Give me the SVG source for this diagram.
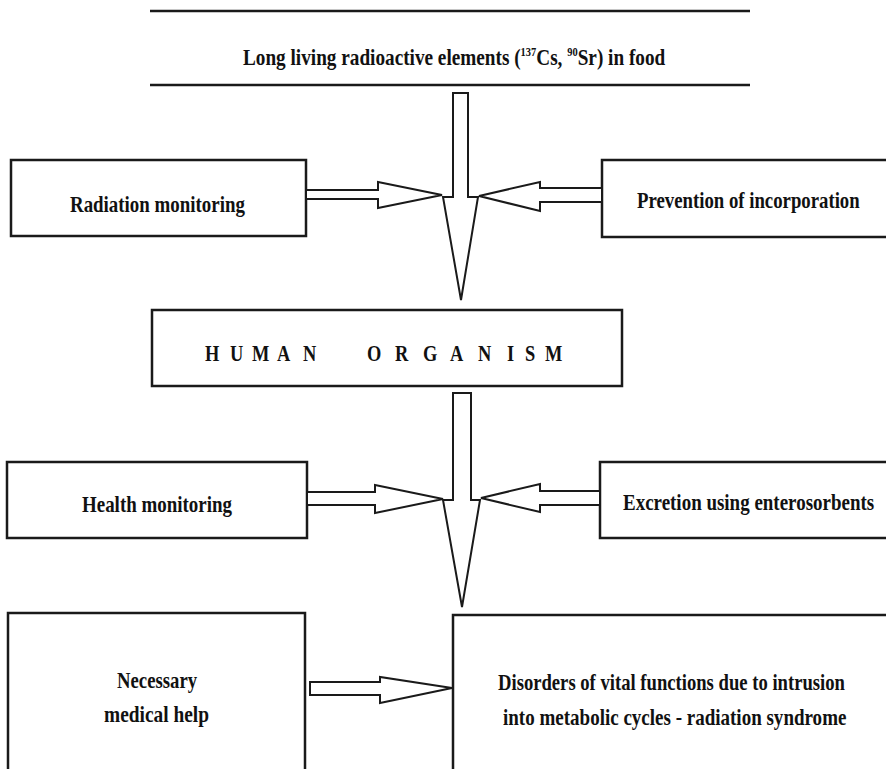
<svg xmlns="http://www.w3.org/2000/svg" width="886" height="769" viewBox="0 0 886 769">
<style>
.box{fill:none;stroke:#1a1a1a;stroke-width:2.5}
.ln{stroke:#1a1a1a;stroke-width:2.5;fill:none}
.arr{fill:#fff;stroke:#1a1a1a;stroke-width:2;stroke-linejoin:miter}
.t{font-family:"Liberation Serif","Times New Roman",serif;font-weight:bold;font-size:23px;fill:#111}
.sup{font-size:12.5px}
</style>
<rect width="886" height="769" fill="#fff"/>
<g id="n-food">
<line class="ln" x1="150" y1="11" x2="750" y2="11"/>
<line class="ln" x1="150" y1="85" x2="750" y2="85"/>
<text class="t" transform="translate(243,65) scale(0.836,1)">Long living radioactive elements (<tspan class="sup" dy="-9">137</tspan><tspan dy="9">Cs, </tspan><tspan class="sup" dy="-9">90</tspan><tspan dy="9">Sr) in food</tspan></text>
</g>
<g id="n-radmon">
<rect class="box" x="11" y="160" width="295" height="76"/>
<text class="t" transform="translate(70,212) scale(0.822,1)">Radiation monitoring</text>
</g>
<g id="n-prevent">
<polyline class="ln" points="888,160 602,160 602,237 888,237"/>
<text class="t" transform="translate(637,208) scale(0.816,1)">Prevention of incorporation</text>
</g>
<g id="n-human">
<rect class="box" x="152" y="310" width="470" height="76"/>
<text class="t" transform="translate(0,361) scale(0.8,1)" x="256.25 287.5 315 346.25 378.75 458.75 493.75 528.75 562.5 597.5 633.75 656.25 681.25">HUMANORGANISM</text>
</g>
<g id="n-health">
<rect class="box" x="7" y="462" width="300" height="76"/>
<text class="t" transform="translate(82,512) scale(0.824,1)">Health monitoring</text>
</g>
<g id="n-excretion">
<polyline class="ln" points="888,462 600,462 600,538 888,538"/>
<text class="t" transform="translate(623,510) scale(0.825,1)">Excretion using enterosorbents</text>
</g>
<g id="n-medical">
<polyline class="ln" points="8,772 8,613 305,613 305,772"/>
<text class="t" transform="translate(117,688) scale(0.814,1)">Necessary</text>
<text class="t" transform="translate(104,722) scale(0.843,1)">medical help</text>
</g>
<g id="n-disorders">
<polyline class="ln" points="453,772 453,615 888,615"/>
<text class="t" transform="translate(498,690) scale(0.811,1)">Disorders of vital functions due to intrusion</text>
<text class="t" transform="translate(503,725) scale(0.827,1)">into metabolic cycles - radiation syndrome</text>
</g>
<g id="connectors">
<polygon class="arr" points="453,93 468,93 468,197 478,197 461,300 443,197 453,197"/>
<polygon class="arr" points="306,190 378,190 378,182 442,195 378,208 378,199 306,199"/>
<polygon class="arr" points="602,188 540,188 540,182 479,196 540,211 540,202 602,202"/>
<polygon class="arr" points="453,393 471,393 471,500 480,500 462,607 443,500 453,500"/>
<polygon class="arr" points="307,492 375,492 375,485 443,499 375,513 375,505 307,505"/>
<polygon class="arr" points="600,491 540,491 540,484 481,498 540,512 540,505 600,505"/>
<polygon class="arr" points="310,682 380,682 380,677 452,688 380,703 380,695 310,695"/>
</g>
</svg>
